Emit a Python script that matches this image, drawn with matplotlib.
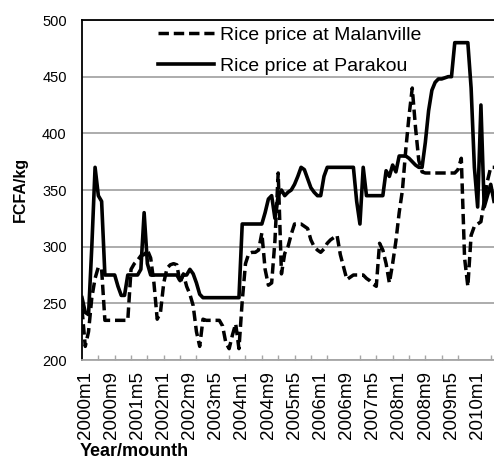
import matplotlib
matplotlib.use("Agg")
import matplotlib.pyplot as plt
import matplotlib.transforms as mtransforms
import numpy as np

plt.rcParams['font.family'] = ['Liberation Sans', 'DejaVu Sans']

# Monthly prices (FCFA/kg), 2000m1 onward
malanville = [
    245, 212, 225, 255, 272, 282, 280, 235, 235, 235,
    235, 235, 235, 235, 235, 280, 285, 288, 292, 293,
    297, 290, 268, 236, 242, 268, 281, 284, 285, 284,
    268, 276, 265, 258, 248, 225, 212, 236, 235, 235,
    235, 235, 235, 230, 215, 210, 222, 232, 210, 252,
    285, 294, 295, 295, 297, 312, 280, 266, 268, 305,
    365, 276, 294, 300, 311, 320, 320, 320, 318, 316,
    306, 300, 297, 295, 298, 303, 306, 308, 310, 293,
    282, 271, 273, 275, 275, 275, 275, 272, 270, 267,
    265, 303, 297, 285, 268, 285, 305, 330, 350, 385,
    415, 440, 405, 376, 366, 365, 365, 365, 365, 365,
    365, 365, 365, 365, 365, 368, 378, 290, 265, 310,
    318, 320, 322, 340, 358, 370, 370,
]
parakou = [
    255, 242, 240, 300, 370, 345, 340, 275, 275, 275,
    275, 265, 257, 257, 275, 275, 275, 275, 280, 330,
    285, 275, 275, 275, 275, 275, 275, 275, 275, 275,
    270, 275, 275, 280, 276, 268, 258, 255, 255, 255,
    255, 255, 255, 255, 255, 255, 255, 255, 255, 320,
    320, 320, 320, 320, 320, 320, 330, 342, 345, 325,
    345, 350, 345, 348, 350, 355, 362, 370, 368, 360,
    352, 348, 345, 345, 362, 370, 370, 370, 370, 370,
    370, 370, 370, 370, 340, 320, 370, 345, 345, 345,
    345, 345, 345, 367, 362, 372, 366, 380, 380, 380,
    378, 375, 372, 370, 370, 392, 420, 438, 445, 448,
    448, 449, 450, 450, 480, 480, 480, 480, 480, 440,
    370, 335, 425, 335, 345, 355, 340,
]
tick_labels = ["2000m1", "2000m9", "2001m5", "2002m1", "2002m9", "2003m5",
               "2004m1", "2004m9", "2005m5", "2006m1", "2006m9", "2007m5",
               "2008m1", "2008m9", "2009m5", "2010m1"]
series_names = ["Rice price at Malanville", "Rice price at Parakou"]

W, H = 494, 459
fig = plt.figure(figsize=(W / 100, H / 100), dpi=100)
ax_left, ax_right, ax_top, ax_bot = 82, 494, 20, 360
ax = fig.add_axes([ax_left / W, 1 - ax_bot / H, (ax_right - ax_left) / W, (ax_bot - ax_top) / H])

x = np.arange(len(parakou))
l1, = ax.plot(x, malanville, color='black', lw=2.5, linestyle=(0, (3.0, 1.4)),
              label=series_names[0], solid_joinstyle='round')
l2, = ax.plot(x, parakou, color='black', lw=2.6, label=series_names[1],
              solid_joinstyle='round')

ax.set_xlim(0, len(parakou) - 1)
ax.set_ylim(200, 500)
ax.set_yticks(np.arange(200, 501, 50))
ax.yaxis.grid(True, color='#a6a6a6', lw=1.3)
ax.set_axisbelow(True)
ax.tick_params(axis='y', length=0, pad=11, labelsize=10.5)

ax.set_xticks(np.arange(0, 8 * len(tick_labels), 8))
ax.set_xticklabels(tick_labels, rotation=90, fontsize=13.5)
ax.tick_params(axis='x', which='major', length=0, pad=8)
ax.set_xticks(np.arange(0, len(parakou), 5), minor=True)
ax.tick_params(axis='x', which='minor', direction='in', length=3.5, width=1, color='#a6a6a6')
offset = mtransforms.ScaledTranslation(3 / 100, 0, fig.dpi_scale_trans)
for lab in ax.get_xticklabels():
    lab.set_transform(lab.get_transform() + offset)

for s in ['left', 'top']:
    ax.spines[s].set_color('black')
    ax.spines[s].set_linewidth(1.3)
ax.spines['bottom'].set_color('#a6a6a6')
ax.spines['bottom'].set_linewidth(1.3)
ax.spines['right'].set_visible(False)

fig.text(20 / W, 1 - 189 / H, "FCFA/kg", rotation=90, ha='center', va='center',
         fontsize=11.5, fontweight='bold')
fig.text(80 / W, 1 - 452 / H, "Year/mounth", ha='left', va='center',
         fontsize=13, fontweight='bold')

leg = fig.legend(handles=[l1, l2], loc='upper left', frameon=False,
                 bbox_to_anchor=(158 / W, 1 - 26 / H), bbox_transform=fig.transFigure,
                 fontsize=14, handlelength=2.9, handletextpad=0.3,
                 labelspacing=0.7, borderpad=0, borderaxespad=0)

fig.savefig("out.png", dpi=100)
